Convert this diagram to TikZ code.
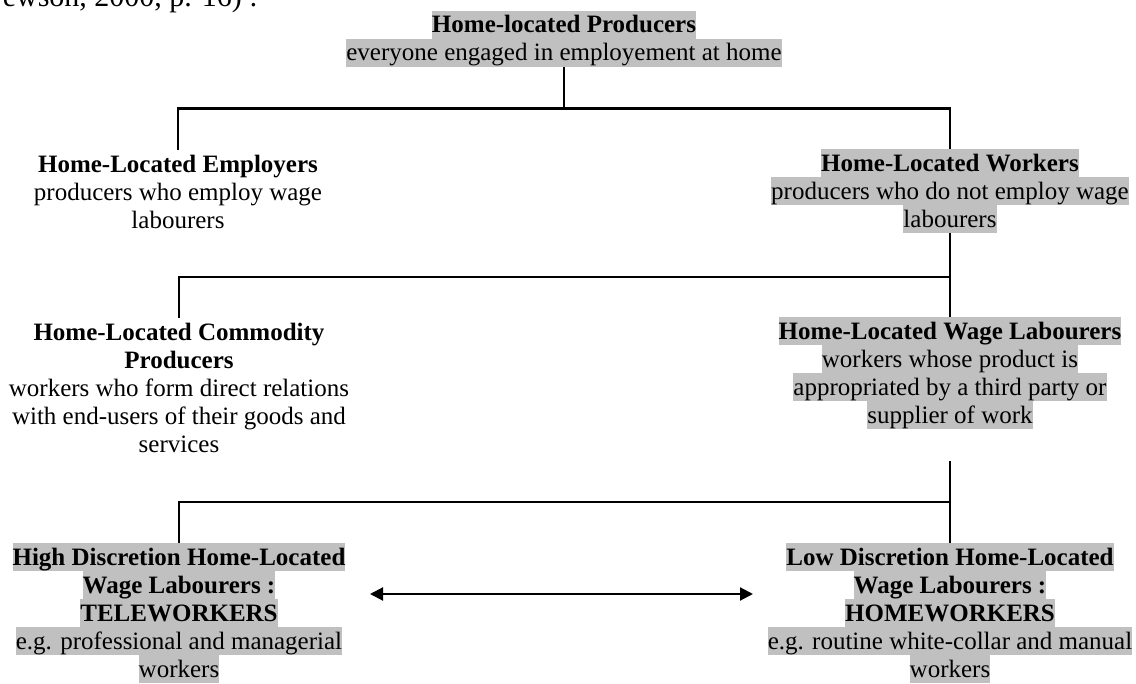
\documentclass[tikz,border=0pt]{standalone}
\usepackage{fontspec}
\setmainfont{Liberation Serif}
\usetikzlibrary{arrows.meta}
\definecolor{hlgray}{HTML}{C0C0C0}
\newcommand\hlt[1]{{\setlength{\fboxsep}{0pt}\colorbox{hlgray}{\rule[-5.7pt]{0pt}{28pt}#1}}}
\newcommand\nhl[1]{\rule[-5.7pt]{0pt}{28pt}#1}
\tikzset{
  box/.style={inner sep=0pt, outer sep=0pt, align=center, anchor=north, font=\fontsize{25}{28}\selectfont},
  conn/.style={line width=2.2pt},
  link/.style={line width=2pt, {Triangle[length=13pt,width=13pt]}-{Triangle[length=13pt,width=13pt]}}
}
\begin{document}
\begin{tikzpicture}[x=1pt,y=-1pt]
\useasboundingbox (0,0) rectangle (1136,684);
\fill[white] (0,0) rectangle (1136,684);
\clip (0,0) rectangle (1136,684);

\node[anchor=base east, inner sep=0pt, font=\fontsize{30}{34}\selectfont] (cite) at (258,7) {(Felstead and Jewson, 2000, p. 16) :};

\node[box] (top) at (564,10.7) {\hlt{\textbf{Home-located Producers}}\\\hlt{everyone engaged in employement at home}};

\node[box] (emp) at (178,150) {\nhl{\textbf{Home-Located Employers}}\\\nhl{producers who employ wage}\\\nhl{labourers}};

\node[box] (wrk) at (950,149) {\hlt{\textbf{Home-Located Workers}}\\\hlt{producers who do not employ wage}\hspace*{32pt}\\\hlt{labourers}};

\node[box] (com) at (179,318) {\nhl{\textbf{Home-Located Commodity}}\\\nhl{\textbf{Producers}}\\\nhl{workers who form direct relations}\\\nhl{with end-users of their goods and}\\\nhl{services}};

\node[box] (wl) at (950,317) {\hlt{\textbf{Home-Located Wage Labourers}}\\\hlt{workers whose product is}\\\hlt{appropriated by a third party or}\\\hlt{supplier of work}};

\node[box] (high) at (179,543) {\hlt{\textbf{High Discretion Home-Located}}\\\hlt{\textbf{Wage Labourers :}}\\\hlt{\textbf{TELEWORKERS}}\\\hlt{e.g. professional and managerial}\\\hlt{workers}};

\node[box] (low) at (950,543) {\hlt{\textbf{Low Discretion Home-Located}}\\\hlt{\textbf{Wage Labourers :}}\\\hlt{\textbf{HOMEWORKERS}}\\\hlt{e.g. routine white-collar and manual}\\\hlt{workers}};

\coordinate (j1) at (565,108.5);
\coordinate (j2) at (565,277);
\coordinate (s3) at (950,461);
\coordinate (j3) at (565,502);
\coordinate (al) at (370,594);
\coordinate (ar) at (753,594);

\draw[conn] (top.south) -- (top.south |- j1);
\draw[conn] (emp.north) -- (emp.north |- j1) -- (wrk.north |- j1) -- (wrk.north);
\draw[conn] (wrk.south) -- (wrk.south |- j2) -- (com.north |- j2) -- (com.north);
\draw[conn] (wl.north) -- (wl.north |- j2);
\draw[conn] (s3) -- (s3 |- j3) -- (high.north |- j3) -- (high.north);
\draw[conn] (low.north) -- (low.north |- j3);
\draw[link] (al) -- (ar);
\end{tikzpicture}
\end{document}
